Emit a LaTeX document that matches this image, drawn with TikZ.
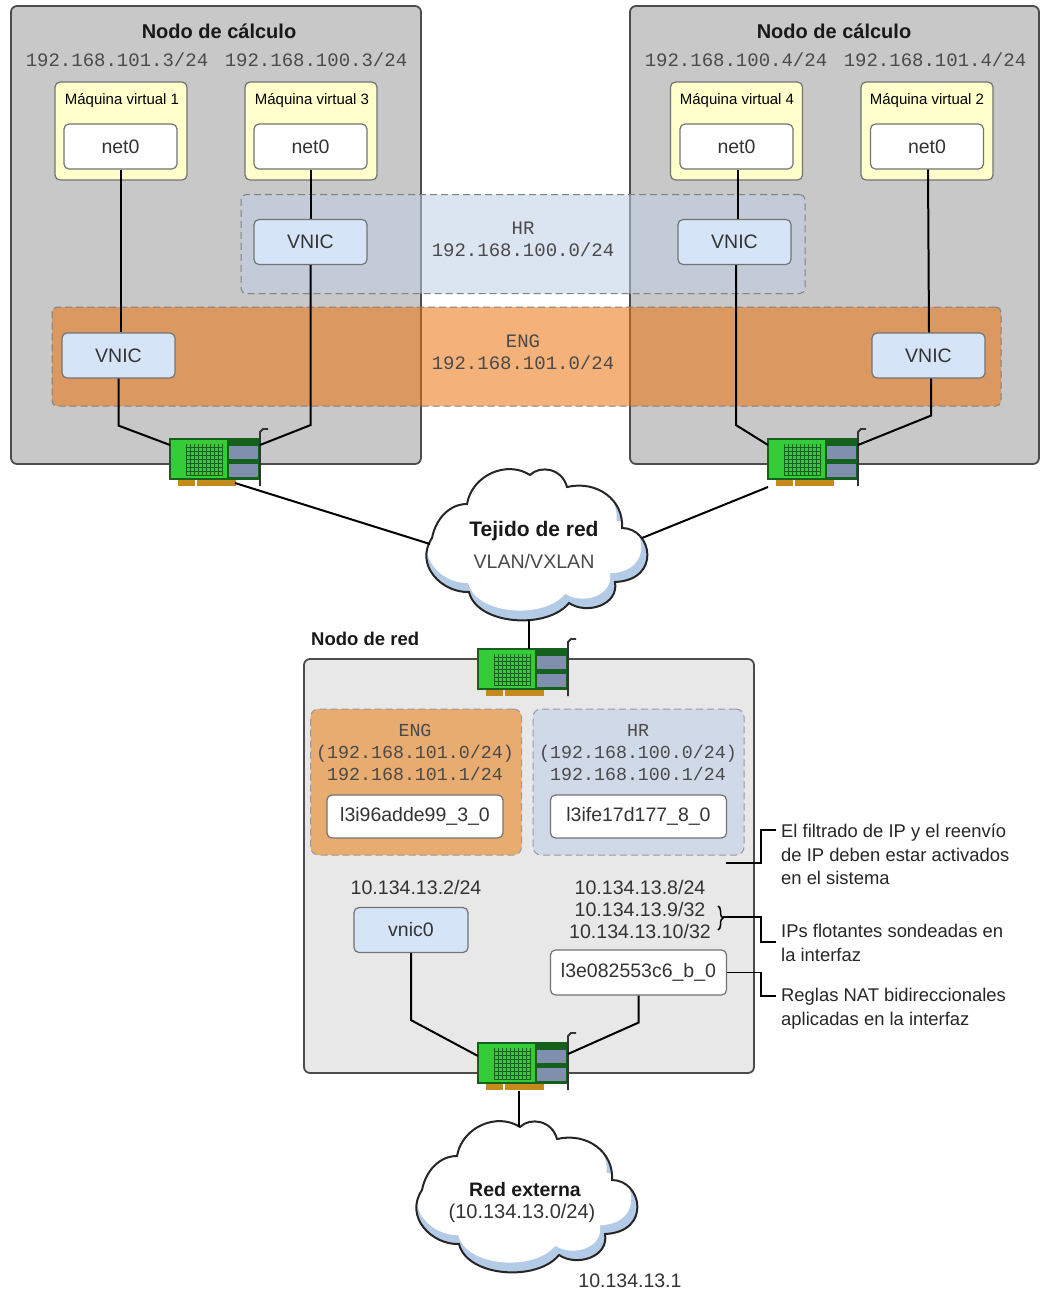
\documentclass[tikz,border=0pt]{standalone}
\usepackage{fontspec}
\setmainfont{Liberation Sans}
\setmonofont{Liberation Mono}
\usetikzlibrary{decorations.pathreplacing}

\definecolor{nodegray}{HTML}{C8C8C8}
\definecolor{netgray}{HTML}{E8E8E8}
\definecolor{vmyellow}{HTML}{FFFFCC}
\definecolor{vnicblue}{HTML}{D6E4F7}
\definecolor{bandorange}{HTML}{EB730D}
\definecolor{bandblue}{HTML}{BFCFE6}
\definecolor{engfill}{HTML}{E8AB70}
\definecolor{hrfill}{HTML}{D0D9E8}
\definecolor{cardgreen}{HTML}{35CC3A}
\definecolor{carddark}{HTML}{14601C}
\definecolor{cardport}{HTML}{7F8FAD}
\definecolor{cardgold}{HTML}{C58A1C}
\definecolor{cloudblue}{HTML}{B4CBE8}
\definecolor{ipgray}{HTML}{4A4A4A}

\newcommand{\cloudpath}{(20,78) .. controls (24,58) and (38,44) .. (55,44)
    .. controls (60,15) and (95,0) .. (118,15)
    .. controls (128,5) and (150,8) .. (155,27)
    .. controls (185,20) and (212,40) .. (210,68)
    .. controls (240,68) and (250,120) .. (203,122)
    .. controls (207,145) and (175,155) .. (157,143)
    .. controls (135,170) and (65,165) .. (57,132)
    .. controls (30,133) and (2,105) .. (20,78) -- cycle}

\tikzset{
    box/.style={draw=black!55, rounded corners=5pt, line width=1.2pt, minimum width=113pt, minimum height=45pt, inner sep=0pt, font=\fontsize{19.5}{21}\selectfont, text=black!80},
    netbox/.style={box, fill=white},
    vnicbox/.style={box, fill=vnicblue},
    ifbox/.style={box, fill=white, minimum width=176pt, minimum height=43pt},
    vmbox/.style={draw=black!55, fill=vmyellow, rounded corners=5pt, line width=1.2pt, minimum width=132pt, minimum height=98pt, inner sep=0pt},
    hostbox/.style={draw=black!70, fill=nodegray, rounded corners=6pt, line width=1.8pt, minimum width=410pt, minimum height=458pt, inner sep=0pt},
    band/.style={draw=black!50, dash pattern=on 7pt off 4pt, rounded corners=5pt, fill opacity=0.55, line width=1pt, minimum height=99pt, inner sep=0pt},
    subnet/.style={draw=black!40, dash pattern=on 7pt off 4pt, line width=1pt, rounded corners=8pt, minimum width=211pt, minimum height=146pt, inner sep=0pt},
    title/.style={font=\fontsize{20}{22}\bfseries\selectfont, text=black!90, inner sep=0pt},
    vmtitle/.style={font=\fontsize{15}{17}\selectfont, inner sep=0pt},
    iptext/.style={font=\fontsize{19}{22}\ttfamily\selectfont, text=ipgray, inner sep=0pt, align=center},
    plain/.style={font=\fontsize{19.6}{22}\selectfont, text=black!80, inner sep=0pt, align=center},
    note/.style={font=\fontsize{18.4}{23.5}\selectfont, text=black!85, inner sep=0pt, align=left, anchor=north west},
    wire/.style={draw=black, line width=2pt},
    notewire/.style={draw=black, line width=1.6pt},
    nic/.pic={
        % connector points
        \coordinate (-left) at (0,6);
        \coordinate (-right) at (90,6);
        \coordinate (-top) at (51,0);
        \coordinate (-bottom) at (65,44);
        \coordinate (-bottomleft) at (0,48);
        \coordinate (-bottommid) at (41,48);
        \coordinate (-lowerleft) at (0,13);
        \coordinate (-lowerright) at (90,11);
        % fingers
        \fill[cardgold] (8,40) rectangle (25,47);
        \fill[cardgold] (27,40) rectangle (66,47);
        % board
        \draw[draw=carddark, fill=cardgreen, line width=1.5pt] (0,0) rectangle (90,40);
        \fill[carddark] (57,1) rectangle (90,40);
        \draw[step=4pt, carddark, line width=0.7pt] (16,5) grid (52,37);
        \draw[draw=carddark, fill=cardport, line width=0.5pt] (58,6) rectangle (88,20);
        \draw[draw=carddark, fill=cardport, line width=0.5pt] (58,24) rectangle (88,38);
        % bracket
        \draw[black!80, line width=1.8pt] (98,-10) -- (93,-10) -- (90,-7) -- (90,47);
    },
    cloud/.pic={
        % connector points
        \coordinate (-left) at (18,84);
        \coordinate (-right) at (230,78);
        \coordinate (-top) at (117,15);
        \coordinate (-bottom) at (117,160);
        \fill[cloudblue] \cloudpath;
        \begin{scope}
            \clip \cloudpath;
            \fill[white, xshift=1pt, yshift=5pt, scale=0.97] \cloudpath;
        \end{scope}
        \draw[black!85, line width=2pt] \cloudpath;
    }
}

\begin{document}
\begin{tikzpicture}[x=1pt, y=-1pt]
    \useasboundingbox[fill=white] (0,0) rectangle (1041,1291);

    % compute nodes
    \node[hostbox] (hosta) at (216,235) {};
    \node[hostbox, minimum width=409pt] (hostb) at (834.5,235) {};
    \node[title] (titlea) at (219,31) {Nodo de cálculo};
    \node[title] (titleb) at (834,31) {Nodo de cálculo};
    \node[iptext] (ipa) at (117,60) {192.168.101.3/24};
    \node[iptext] (ipc) at (316,60) {192.168.100.3/24};
    \node[iptext] (ipd) at (736,60) {192.168.100.4/24};
    \node[iptext] (ipb) at (935,60) {192.168.101.4/24};

    % bands
    \node[band, fill=bandblue, minimum width=564pt] (hrband) at (523,244) {};
    \node[band, fill=bandorange, minimum width=949pt] (engband) at (526.5,356.5) {};
    \node[iptext] (hrtext) at (523,239) {HR\\192.168.100.0/24};
    \node[iptext] (engtext) at (523,352) {ENG\\192.168.101.0/24};

    % virtual machines
    \node[vmbox] (vma) at (121,131) {};
    \node[vmbox] (vmc) at (311,131) {};
    \node[vmbox] (vmd) at (736.5,131) {};
    \node[vmbox] (vmb) at (927,131) {};
    \node[vmtitle] (vmatext) at (122,101) {Máquina virtual 1};
    \node[vmtitle] (vmctext) at (312,101) {Máquina virtual 3};
    \node[vmtitle] (vmdtext) at (737,101) {Máquina virtual 4};
    \node[vmtitle] (vmbtext) at (927,101) {Máquina virtual 2};
    \node[netbox] (neta) at (120.5,146.5) {net0};
    \node[netbox] (netc) at (310.5,146.5) {net0};
    \node[netbox] (netd) at (736.5,146.5) {net0};
    \node[netbox] (netb) at (927,146.5) {net0};

    % vnics
    \node[vnicbox] (vnicc) at (310.5,242) {VNIC};
    \node[vnicbox] (vnicd) at (734.5,242) {VNIC};
    \node[vnicbox] (vnica) at (118.5,355.5) {VNIC};
    \node[vnicbox] (vnicb) at (928.5,355.5) {VNIC};

    % cards
    \pic (nica) at (170,439) {nic};
    \pic (nicb) at (768,439) {nic};

    % clouds
    \pic (fabric) at (412,460) {cloud};
    \pic (extnet) at (402,1112) {cloud};
    \node[title, font=\fontsize{21}{23}\bfseries\selectfont] (fabrictext) at (534,531) {Tejido de red};
    \node[plain, text=ipgray] (vlantext) at (534,561) {VLAN/VXLAN};
    \node[title, font=\fontsize{19.5}{22}\bfseries\selectfont] (exttext) at (525,1190) {Red externa};
    \node[plain, font=\fontsize{20}{22}\selectfont] (extaddr) at (522,1213) {(10.134.13.0/24)};
    \node[plain, font=\fontsize{19.5}{22}\selectfont] (gateway) at (630,1281) {10.134.13.1};

    % network node
    \node[title, anchor=west, font=\fontsize{18.5}{22}\bfseries\selectfont] (nettitle) at (311,639) {Nodo de red};
    \node[draw=black!70, fill=netgray, rounded corners=6pt, line width=1.8pt, minimum width=450pt, minimum height=414pt, inner sep=0pt] (netnode) at (529,866) {};
    \pic (nict) at (478,649) {nic};
    \pic (nicz) at (478,1043) {nic};
    \node[subnet, fill=engfill] (engbox) at (416,782) {};
    \node[subnet, fill=hrfill] (hrbox) at (638.5,782) {};
    \node[iptext, font=\fontsize{18.3}{22}\ttfamily\selectfont] (engip) at (415,752.5) {ENG\\(192.168.101.0/24)\\192.168.101.1/24};
    \node[iptext, font=\fontsize{18.3}{22}\ttfamily\selectfont] (hrip) at (638,752.5) {HR\\(192.168.100.0/24)\\192.168.100.1/24};
    \node[ifbox] (ifeng) at (415,816.5) {l3i96adde99\_3\_0};
    \node[ifbox] (ifhr) at (638.5,816.5) {l3ife17d177\_8\_0};
    \node[plain] (vnicip) at (416,887) {10.134.13.2/24};
    \node[vnicbox, minimum width=114pt] (vnicz) at (411,930) {vnic0};
    \node[plain] (floatips) at (640,909) {10.134.13.8/24\\10.134.13.9/32\\10.134.13.10/32};
    \node[ifbox, minimum height=45pt] (ifext) at (638.5,972.5) {l3e082553c6\_b\_0};

    % notes
    \node[note] (notefw) at (781,824) {El filtrado de IP y el reenvío\\de IP deben estar activados\\en el sistema};
    \node[note] (notefloat) at (781,924) {IPs flotantes sondeadas en\\la interfaz};
    \node[note] (notenat) at (781,988) {Reglas NAT bidireccionales\\aplicadas en la interfaz};
    \coordinate (fwend) at (726,863);
    \coordinate (bracetop) at (718,906);
    \coordinate (bracebot) at (718,930);
    \coordinate (bracetip) at (723,917);
    \coordinate (kneefw) at (761,830);
    \coordinate (kneefloat) at (761,942);
    \coordinate (kneenat) at (761,996);
    \coordinate (endfw) at (776,830);
    \coordinate (endfloat) at (776,942);
    \coordinate (endnat) at (776,996);

    % wires up top
    \draw[wire] (neta.south) -- (neta.south |- vnica.north);
    \draw[wire] (vnica.south) -- ++(0,47) -- (nica-left);
    \draw[wire] (netc.south) -- (vnicc.north);
    \draw[wire] (vnicc.south) -- ++(0,160) -- (nica-right);
    \draw[wire] ([xshift=1.5pt]netd.south) -- ([xshift=3.5pt]vnicd.north);
    \draw[wire] ([xshift=1.5pt]vnicd.south) -- ++(0,160) -- (nicb-left);
    \draw[wire] ([xshift=1pt]netb.south) -- ([xshift=0.5pt]vnicb.north);
    \draw[wire] ([xshift=2.5pt]vnicb.south) -- ++(0,37) -- (nicb-right);
    \draw[wire] (nica-bottom) -- (fabric-left);
    \draw[wire] (nicb-bottomleft) -- (fabric-right);
    \draw[wire] (fabric-bottom) -- (nict-top);

    % wires down below
    \draw[wire] (vnicz.south) -- ++(0,67) -- (nicz-lowerleft);
    \draw[wire] (ifext.south) -- ++(0,27) -- (nicz-lowerright);
    \draw[wire] (nicz-bottommid) -- (extnet-top);

    % notes wires
    \draw[notewire] (fwend) -- (kneefw |- fwend) -- (kneefw) -- (endfw);
    \draw[notewire] (bracetip) -- (kneefloat |- bracetip) -- (kneefloat) -- (endfloat);
    \draw[notewire] (ifext.east) -- (kneenat |- ifext.east) -- (kneenat) -- (endnat);
    \draw[line width=1.5pt, decorate, decoration={brace, amplitude=5pt}] (bracetop) -- (bracebot);
\end{tikzpicture}
\end{document}
